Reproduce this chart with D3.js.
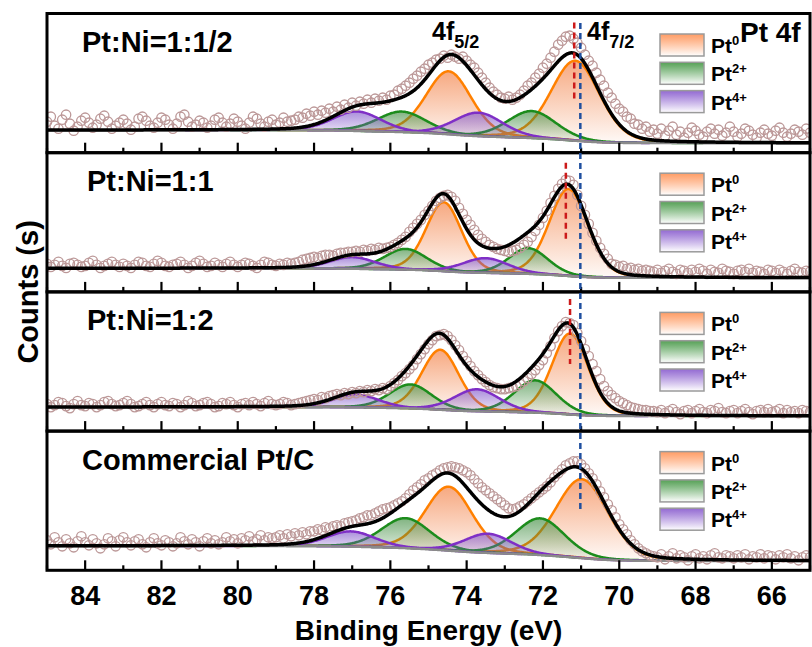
<!DOCTYPE html>
<html>
<head>
<meta charset="utf-8">
<script src="https://d3js.org/d3.v7.min.js"></script>
<style>
  body { margin: 0; background: #fff; }
  svg { display: block; font-family: "Liberation Sans", Arial, sans-serif; font-weight: bold; }
</style>
</head>
<body>
<svg id="chart" width="812" height="647"></svg>
<script>
// ---- data ---------------------------------------------------------------
// Pt 4f spectra, counts sampled every 0.1 eV from 85.0 eV down to 65.0 eV
const energyStart = 85.0;
const energyStep = 0.1;

const panelLabels = ["Pt:Ni=1:1/2", "Pt:Ni=1:1", "Pt:Ni=1:2", "Commercial Pt/C"];

const countsPtNi1_05 = [
  31,36,27,24,33,38,29,22,26,32,
  35,30,25,28,34,37,31,24,27,30,
  33,29,23,26,34,36,32,27,25,30,
  35,33,28,24,29,36,38,31,26,28,
  32,30,25,27,33,35,30,26,29,34,
  31,27,24,30,36,34,29,26,31,33,
  28,30,35,31,32,33,36,35,39,37,
  41,38,42,40,44,41,46,43,48,45,
  50,47,51,49,53,50,54,52,55,53,
  57,58,62,64,67,70,74,77,81,84,
  88,90,93,94,97,95,98,96,94,96,
  92,88,85,80,75,70,65,61,58,55,
  54,56,53,55,58,62,67,70,75,79,
  85,89,95,101,108,112,116,117,114,110,
  105,98,92,87,80,73,67,60,55,49,
  44,41,36,34,29,28,24,26,21,23,
  19,24,17,22,26,18,21,15,20,25,
  22,18,16,21,24,19,23,17,20,26,
  21,16,19,24,22,18,15,20,23,19,
  17,22,25,20,16,19,23,21,18,24,
  20
];

const countsPtNi1_1 = [
  28,25,27,30,26,24,28,29,27,25,
  26,29,31,27,24,26,28,30,27,25,
  28,26,24,27,30,29,26,25,28,31,
  29,26,25,27,28,30,27,24,26,29,
  31,28,25,26,29,27,25,28,30,27,
  25,27,29,28,26,24,27,30,29,27,
  26,28,27,29,28,29,30,32,33,34,
  35,34,36,37,37,36,38,39,39,40,
  40,41,40,42,41,43,42,44,43,44,
  45,47,49,52,55,60,64,68,72,77,
  81,86,91,94,96,97,95,91,84,78,
  72,67,62,57,53,50,47,45,43,42,
  41,40,41,42,44,47,50,55,61,67,
  74,81,89,96,103,108,112,111,107,97,
  86,77,68,59,51,44,38,33,28,27,
  25,26,23,24,22,23,21,22,21,20,
  22,19,21,23,20,18,22,21,19,22,
  20,23,21,18,22,20,19,23,21,20,
  18,21,22,20,23,19,21,20,18,22,
  21,19,22,20,18,21,23,20,19,21,
  20
];

const countsPtNi1_2 = [
  27,24,26,29,28,25,23,27,30,26,
  25,28,27,24,26,29,30,27,25,26,
  28,30,27,24,25,27,29,26,24,27,
  29,26,25,28,27,24,26,30,28,25,
  26,28,29,27,24,25,28,27,29,26,
  24,27,28,26,29,27,25,28,30,27,
  26,27,29,28,26,27,28,29,30,31,
  32,31,34,33,35,36,37,36,38,37,
  39,38,40,39,41,40,42,41,43,42,
  45,48,51,55,58,62,66,72,77,82,
  87,91,95,96,97,95,91,86,81,75,
  70,65,60,56,52,49,46,44,43,42,
  42,43,44,45,47,50,53,57,61,66,
  71,78,85,93,100,105,109,108,106,98,
  90,82,75,67,60,52,45,40,36,33,
  30,28,26,24,23,22,21,21,20,20,
  19,21,18,20,22,19,17,20,21,18,
  20,22,19,18,21,20,23,19,18,20,
  21,18,20,22,19,17,20,21,19,22,
  19,20,22,18,21,19,20,18,21,20,
  19
];

const countsPtC = [
  30,26,33,28,24,31,27,23,29,34,
  28,25,31,27,22,26,32,29,24,30,
  33,28,25,29,31,26,23,28,32,27,
  25,30,28,24,27,33,29,26,31,28,
  24,29,32,27,30,26,28,33,29,31,
  27,32,30,34,29,31,35,30,33,32,
  33,35,32,36,34,37,35,38,36,39,
  39,41,40,43,42,44,45,44,47,48,
  49,50,52,53,55,55,57,59,61,62,
  63,65,67,69,72,76,80,83,86,90,
  92,95,97,100,102,103,104,103,102,100,
  98,95,91,87,83,80,77,74,71,68,
  65,62,61,62,64,66,69,72,75,78,
  81,84,88,93,97,101,105,107,109,109,
  106,102,97,92,86,79,73,66,60,53,
  46,41,36,30,26,22,19,17,15,14,
  13,16,11,14,17,12,15,13,10,14,
  16,12,14,11,15,17,13,12,15,14,
  12,15,13,16,11,14,13,16,12,15,
  14,11,15,13,16,12,14,10,13,15,
  13
];

// fitted components: [centre (eV), height, FWHM (eV)] for 4f7/2 and 4f5/2
const pt0Peaks = [
  [[71.15, 80, 1.50], [74.47, 63, 1.40]],
  [[71.33, 87, 1.20], [74.60, 69, 1.10]],
  [[71.29, 81, 1.12], [74.69, 60, 1.15]],
  [[70.98, 79, 1.62], [74.47, 64, 1.45]]
];
const pt2Peaks = [
  [[72.29, 27.0, 1.50], [75.70, 20.5, 1.50]],
  [[72.38, 25.7, 1.20], [75.60, 20.7, 1.30]],
  [[72.20, 32.3, 1.30], [75.47, 24.0, 1.30]],
  [[72.07, 36.7, 1.50], [75.60, 30.0, 1.50]]
];
const pt4Peaks = [
  [[73.69, 23.5, 1.50], [76.88, 19.5, 1.50]],
  [[73.51, 14.7, 1.40], [77.00, 11.7, 1.40]],
  [[73.73, 22.0, 1.40], [76.90, 13.0, 1.40]],
  [[73.44, 19.2, 1.45], [77.04, 15.3, 1.50]]
];
// Shirley background level on the high-BE and low-BE sides
const backgroundEnds = [[22.5, 9.5], [23.5, 14.0], [24.0, 15.0], [24.3, 9.3]];

// Pt0 4f7/2 position of each Pt-Ni sample and the Pt/C reference
const pt0Positions = [71.18, 71.40, 71.29];
const referencePosition = 71.02;

const majorTicks = [84, 82, 80, 78, 76, 74, 72, 70, 68, 66];
const minorTicks = [85, 83, 81, 79, 77, 75, 73, 71, 69, 67, 65];
const legendItems = [["Pt", "0"], ["Pt", "2+"], ["Pt", "4+"]];
const stateKeys = ["pt0", "pt2", "pt4"];

// ---- layout & styles ----------------------------------------------------
const frame = { left: 47, right: 810, top: 13.5, bottom: 570.3 };
const panelH = (frame.bottom - frame.top) / 4;
const countsSpan = 139;
const lorentzMix = 0.2;
const palette = {
  pt0: { line: "#ff8000", fill: "#f27a3c", key: "#ff8f50" },
  pt2: { line: "#1c8c1c", fill: "#3d8b3d", key: "#3f943f" },
  pt4: { line: "#7f2fc6", fill: "#7d52c8", key: "#8455cc" }
};
const labelX = [82, 87, 87, 82];
const redSpans = [[9, 88], [10, 86], [7, 72]];

const x = d3.scaleLinear().domain([85, 65]).range([frame.left, frame.right]);

const svg = d3.select("#chart");
const defs = svg.append("defs");

stateKeys.forEach(k => {
  const g = defs.append("linearGradient").attr("id", "fill-" + k)
    .attr("x1", 0).attr("y1", 0).attr("x2", 0).attr("y2", 1);
  g.append("stop").attr("offset", 0).attr("stop-color", palette[k].fill).attr("stop-opacity", 0.65);
  g.append("stop").attr("offset", 1).attr("stop-color", palette[k].fill).attr("stop-opacity", 0.04);
  const kg = defs.append("linearGradient").attr("id", "key-" + k)
    .attr("x1", 0).attr("y1", 0).attr("x2", 0).attr("y2", 1);
  kg.append("stop").attr("offset", 0).attr("stop-color", palette[k].key).attr("stop-opacity", 0.88);
  kg.append("stop").attr("offset", 1).attr("stop-color", "#ffffff").attr("stop-opacity", 1);
});

// pseudo-Voigt line shape
function pv(e, p) {
  const t = (e - p[0]) / p[2];
  return p[1] * ((1 - lorentzMix) * Math.exp(-4 * Math.LN2 * t * t) + lorentzMix / (1 + 4 * t * t));
}

const grid = d3.range(0, 1001).map(k => 65 + k * 0.02);

const panels = [
  { label: panelLabels[0], counts: countsPtNi1_05, peaks: { pt0: pt0Peaks[0], pt2: pt2Peaks[0], pt4: pt4Peaks[0] }, bg: backgroundEnds[0], mark: pt0Positions[0] },
  { label: panelLabels[1], counts: countsPtNi1_1,  peaks: { pt0: pt0Peaks[1], pt2: pt2Peaks[1], pt4: pt4Peaks[1] }, bg: backgroundEnds[1], mark: pt0Positions[1] },
  { label: panelLabels[2], counts: countsPtNi1_2,  peaks: { pt0: pt0Peaks[2], pt2: pt2Peaks[2], pt4: pt4Peaks[2] }, bg: backgroundEnds[2], mark: pt0Positions[2] },
  { label: panelLabels[3], counts: countsPtC,      peaks: { pt0: pt0Peaks[3], pt2: pt2Peaks[3], pt4: pt4Peaks[3] }, bg: backgroundEnds[3], mark: null }
];

panels.forEach((pan, i) => {
  const top = frame.top + i * panelH;
  const bottom = top + panelH;
  const y = d3.scaleLinear().domain([0, countsSpan]).range([bottom, bottom - countsSpan]);

  defs.append("clipPath").attr("id", "clip" + i)
    .append("rect").attr("x", frame.left).attr("y", top)
    .attr("width", frame.right - frame.left).attr("height", panelH);
  const g = svg.append("g").attr("clip-path", `url(#clip${i})`);

  // fit model with Shirley background
  const allPeaks = stateKeys.flatMap(k => pan.peaks[k]);
  const total = grid.map(e => d3.sum(allPeaks, p => pv(e, p)));
  const cum = [0];
  for (let k = 1; k < grid.length; k++) cum.push(cum[k - 1] + (total[k] + total[k - 1]) / 2);
  const [high, low] = pan.bg;
  const bg = cum.map(c => low + (high - low) * c / cum[cum.length - 1]);
  const pts = grid.map((e, k) => ({ e, k }));

  stateKeys.forEach(key => {
    pan.peaks[key].forEach(p => {
      const seg = pts.filter(d => Math.abs(d.e - p[0]) <= 4.5);
      g.append("path").datum(seg)
        .attr("fill", `url(#fill-${key})`)
        .attr("d", d3.area().x(d => x(d.e)).y0(d => y(bg[d.k])).y1(d => y(bg[d.k] + pv(d.e, p))));
      g.append("path").datum(seg)
        .attr("fill", "none").attr("stroke", palette[key].line).attr("stroke-width", 2.5)
        .attr("d", d3.line().x(d => x(d.e)).y(d => y(bg[d.k] + pv(d.e, p))));
    });
  });

  g.append("path").datum(pts)
    .attr("fill", "none").attr("stroke", "#8a8a8a").attr("stroke-width", 2.5)
    .attr("d", d3.line().x(d => x(d.e)).y(d => y(bg[d.k])));

  g.selectAll("circle.obs").data(pan.counts).join("circle")
    .attr("class", "obs")
    .attr("cx", (v, j) => x(energyStart - j * energyStep))
    .attr("cy", v => y(v))
    .attr("r", 4.7)
    .attr("fill", "none").attr("stroke", "#bc9898").attr("stroke-width", 1.3);

  g.append("path").datum(pts)
    .attr("fill", "none").attr("stroke", "#000").attr("stroke-width", 3.5)
    .attr("stroke-linejoin", "round")
    .attr("d", d3.line().x(d => x(d.e)).y(d => y(bg[d.k] + total[d.k])));

  // ticks along the bottom edge, pointing inward
  majorTicks.forEach(t => svg.append("line").attr("x1", x(t)).attr("x2", x(t))
    .attr("y1", bottom).attr("y2", bottom - 10).attr("stroke", "#000").attr("stroke-width", 2.2));
  minorTicks.forEach(t => svg.append("line").attr("x1", x(t)).attr("x2", x(t))
    .attr("y1", bottom).attr("y2", bottom - 5).attr("stroke", "#000").attr("stroke-width", 2.2));

  svg.append("text").attr("x", labelX[i]).attr("y", top + 38.5)
    .attr("font-size", 29).attr("fill", "#000").text(pan.label);

  // legend
  legendItems.forEach((it, k) => {
    const by = top + 20.5 + k * 28.3;
    svg.append("rect").attr("x", 660).attr("y", by).attr("width", 44).attr("height", 22)
      .attr("fill", `url(#key-${stateKeys[k]})`).attr("stroke", "#9a9a9a").attr("stroke-width", 1.5);
    const t = svg.append("text").attr("x", 711).attr("y", by + 19).attr("font-size", 21).attr("fill", "#000");
    t.append("tspan").text(it[0]);
    t.append("tspan").attr("font-size", 13).attr("dy", -8).text(it[1]);
  });

  if (pan.mark !== null) {
    svg.append("line").attr("x1", x(pan.mark)).attr("x2", x(pan.mark))
      .attr("y1", top + redSpans[i][0]).attr("y2", top + redSpans[i][1])
      .attr("stroke", "#cc1a1a").attr("stroke-width", 2.5).attr("stroke-dasharray", "6,4");
  }

  svg.append("rect").attr("x", frame.left).attr("y", top)
    .attr("width", frame.right - frame.left).attr("height", panelH)
    .attr("fill", "none").attr("stroke", "#000").attr("stroke-width", 3);
});

// Pt/C reference position across all panels
svg.append("line").attr("x1", x(referencePosition)).attr("x2", x(referencePosition))
  .attr("y1", 23).attr("y2", 510)
  .attr("stroke", "#1f4f9f").attr("stroke-width", 2.5).attr("stroke-dasharray", "6,4");

// spin-orbit labels and title
function orbital(xp, sub) {
  const t = svg.append("text").attr("x", xp).attr("y", 40).attr("font-size", 25).attr("fill", "#000");
  t.append("tspan").text("4f");
  t.append("tspan").attr("font-size", 18).attr("dy", 8).text(sub);
}
orbital(432, "5/2");
orbital(587, "7/2");

svg.append("text").attr("x", 740).attr("y", 42).attr("font-size", 28).attr("fill", "#000").text("Pt 4f");

// axis labels
majorTicks.forEach(t => svg.append("text").attr("x", x(t)).attr("y", 605)
  .attr("text-anchor", "middle").attr("font-size", 27).attr("fill", "#000").text(t));

svg.append("text").attr("x", (frame.left + frame.right) / 2).attr("y", 640)
  .attr("text-anchor", "middle").attr("font-size", 28).attr("fill", "#000").text("Binding Energy (eV)");

svg.append("text").attr("transform", `translate(38,${(frame.top + frame.bottom) / 2}) rotate(-90)`)
  .attr("text-anchor", "middle").attr("font-size", 29).attr("fill", "#000").text("Counts (s)");
</script>
</body>
</html>
